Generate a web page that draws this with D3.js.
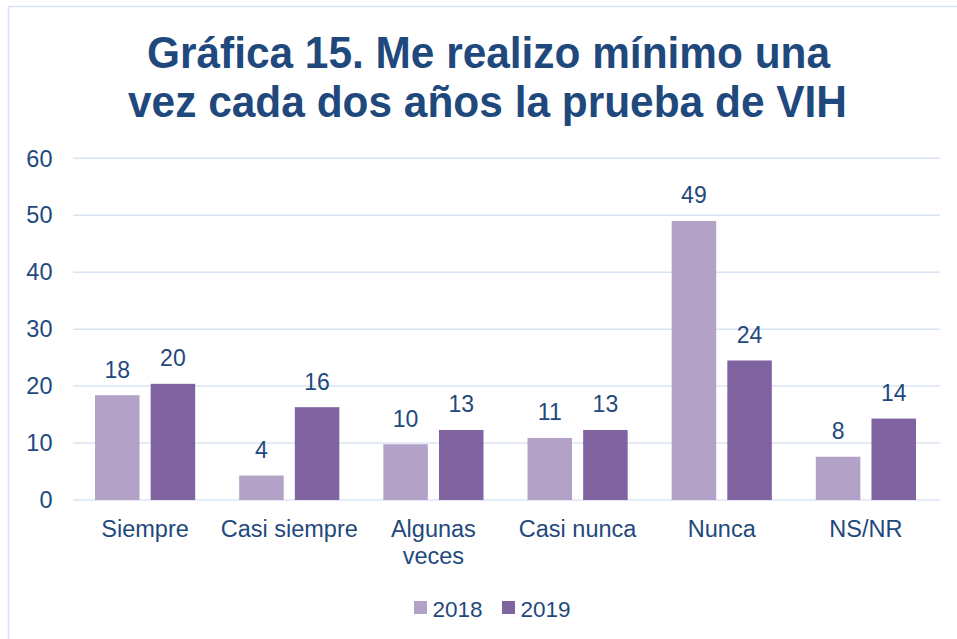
<!DOCTYPE html>
<html>
<head>
<meta charset="utf-8">
<script src="https://cdn.jsdelivr.net/npm/d3@7"></script>
<style>
  body { margin: 0; background: #fff; }
  svg text { font-family: "Liberation Sans", Arial, sans-serif; fill: #1f497d; }
</style>
</head>
<body>
<div id="viz"></div>
<script>
// chart data
const categories = ['Siempre', 'Casi siempre', 'Algunas veces', 'Casi nunca', 'Nunca', 'NS/NR'];
const series = ['2018', '2019'];
const values2018 = [18.4, 4.3, 9.8, 10.9, 49.0, 7.6];
const values2019 = [20.4, 16.3, 12.3, 12.3, 24.5, 14.3];
const labels2018 = [18, 4, 10, 11, 49, 8];
const labels2019 = [20, 16, 13, 13, 24, 14];
const yTicks = [0, 10, 20, 30, 40, 50, 60];
const titleLines = ['Gráfica 15. Me realizo mínimo una', 'vez cada dos años la prueba de VIH'];

const colors = { '2018': '#b3a2c7', '2019': '#8064a2' };
const width = 957;
const height = 639;

const svg = d3.select('#viz')
  .append('svg')
  .attr('width', width)
  .attr('height', height);

// outer frame (only top/left visible in the reference)
svg.append('rect')
  .attr('x', 8.5)
  .attr('y', 6.5)
  .attr('width', width + 20)
  .attr('height', height + 20)
  .attr('fill', 'none')
  .attr('stroke', '#d6e3f4')
  .attr('stroke-width', 1.5);

// title
const titleSpec = [
  { x: 488.5, y: 68, w: 683 },
  { x: 487.5, y: 116.5, w: 719 },
];
svg.selectAll('text.title')
  .data(titleLines)
  .enter()
  .append('text')
  .attr('class', 'title')
  .attr('x', (d, i) => titleSpec[i].x)
  .attr('y', (d, i) => titleSpec[i].y)
  .attr('text-anchor', 'middle')
  .attr('font-size', 44)
  .attr('font-weight', 'bold')
  .attr('textLength', (d, i) => titleSpec[i].w)
  .attr('lengthAdjust', 'spacingAndGlyphs')
  .text(d => d);

const x0 = d3.scaleBand()
  .domain(categories)
  .range([73, 938]);

const x1 = d3.scaleBand()
  .domain(series)
  .range([22, x0.bandwidth() - 22])
  .paddingInner(0.2);

const y = d3.scaleLinear()
  .domain([0, 60])
  .range([500, 158.3]);

// gridlines
svg.append('g')
  .selectAll('line')
  .data(yTicks)
  .enter()
  .append('line')
  .attr('x1', x0.range()[0])
  .attr('x2', x0.range()[1] + 2)
  .attr('y1', d => y(d))
  .attr('y2', d => y(d))
  .attr('stroke', '#d9e4f3')
  .attr('stroke-width', 1.5);

// y tick labels
svg.append('g')
  .selectAll('text')
  .data(yTicks)
  .enter()
  .append('text')
  .attr('x', 52.5)
  .attr('y', d => y(d))
  .attr('dy', '0.35em')
  .attr('text-anchor', 'end')
  .attr('font-size', 23.5)
  .text(d => d);

const rows = categories.map((c, i) => ({
  category: c,
  items: [
    { key: '2018', value: values2018[i], label: labels2018[i] },
    { key: '2019', value: values2019[i], label: labels2019[i] },
  ],
}));

const groups = svg.append('g')
  .selectAll('g')
  .data(rows)
  .enter()
  .append('g')
  .attr('transform', d => `translate(${x0(d.category)},0)`);

groups.selectAll('rect')
  .data(d => d.items)
  .enter()
  .append('rect')
  .attr('x', d => x1(d.key))
  .attr('y', d => y(d.value))
  .attr('width', x1.bandwidth())
  .attr('height', d => y(0) - y(d.value))
  .attr('fill', d => colors[d.key]);

groups.selectAll('text.value')
  .data(d => d.items)
  .enter()
  .append('text')
  .attr('class', 'value')
  .attr('x', d => x1(d.key) + x1.bandwidth() / 2)
  .attr('y', d => y(d.value) - 17.5)
  .attr('text-anchor', 'middle')
  .attr('font-size', 23)
  .text(d => d.label);

// category labels, wrapping "Algunas veces"
const catLabels = svg.append('g')
  .selectAll('text')
  .data(categories)
  .enter()
  .append('text')
  .attr('x', d => x0(d) + x0.bandwidth() / 2)
  .attr('y', 536.5)
  .attr('text-anchor', 'middle')
  .attr('font-size', 23.5);

catLabels.each(function (d) {
  const lines = d === 'Algunas veces' ? ['Algunas', 'veces'] : [d];
  d3.select(this).selectAll('tspan')
    .data(lines)
    .enter()
    .append('tspan')
    .attr('x', x0(d) + x0.bandwidth() / 2)
    .attr('dy', (l, i) => i === 0 ? 0 : 27)
    .text(l => l);
});

// legend
const legend = svg.append('g')
  .selectAll('g')
  .data(series)
  .enter()
  .append('g')
  .attr('transform', (d, i) => `translate(${414 + i * 88},0)`);

legend.append('rect')
  .attr('x', 0)
  .attr('y', 601)
  .attr('width', 13)
  .attr('height', 13)
  .attr('fill', d => colors[d]);

legend.append('text')
  .attr('x', 18.5)
  .attr('y', 616.5)
  .attr('font-size', 22.5)
  .text(d => d);
</script>
</body>
</html>
